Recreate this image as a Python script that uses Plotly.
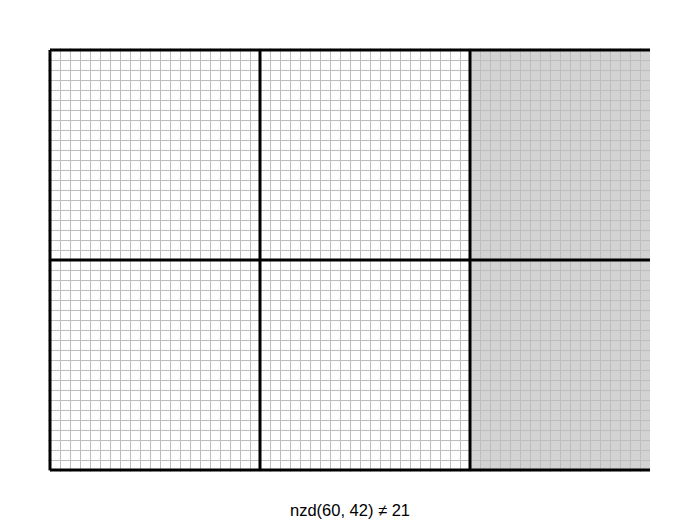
import plotly.graph_objects as go

# rectangle sides and the tried square side
width_a = 60
height_b = 42
square_d = 21
title_text = "nzd(60, 42) \u2260 21"

x_cuts = list(range(0, width_a + 1, square_d))   # 0, 21, 42
y_cuts = list(range(0, height_b + 1, square_d))  # 0, 21, 42
leftover_start = x_cuts[-1]
pad = 0.2  # a little room so the outer border is not clipped

fig = go.Figure()

# thick lines of the squares
for y in y_cuts:
    fig.add_trace(go.Scatter(x=[0, width_a], y=[y, y], mode="lines",
                             line=dict(color="black", width=3),
                             hoverinfo="skip", showlegend=False))
for x in x_cuts:
    fig.add_trace(go.Scatter(x=[x, x], y=[0, height_b], mode="lines",
                             line=dict(color="black", width=3),
                             hoverinfo="skip", showlegend=False))

# leftover strip that the squares do not cover
fig.add_shape(type="rect", x0=leftover_start, x1=width_a, y0=0, y1=height_b,
              fillcolor="#d3d3d3", line=dict(width=0), layer="below")

fig.update_xaxes(range=[-pad, width_a], dtick=1, tick0=0, showgrid=True,
                 gridcolor="#bdbdbd", gridwidth=1, showticklabels=False,
                 zeroline=False, ticks="", showline=False)
fig.update_yaxes(range=[-pad, height_b + pad], dtick=1, tick0=0, showgrid=True,
                 gridcolor="#bdbdbd", gridwidth=1, showticklabels=False,
                 zeroline=False, ticks="", showline=False)

fig.add_annotation(text=title_text, x=0.5, y=0, xref="paper", yref="paper",
                   xshift=1, yshift=-38, yanchor="middle", showarrow=False,
                   font=dict(family="Liberation Sans, Arial", size=16.5, color="black"))

# the page has an 8px body margin, so the figure is a bit smaller and shifted
fig.update_layout(width=692, height=512,
                  margin=dict(l=40, r=50, t=40, b=48),
                  plot_bgcolor="white", paper_bgcolor="white")

fig.write_html("out.html")
